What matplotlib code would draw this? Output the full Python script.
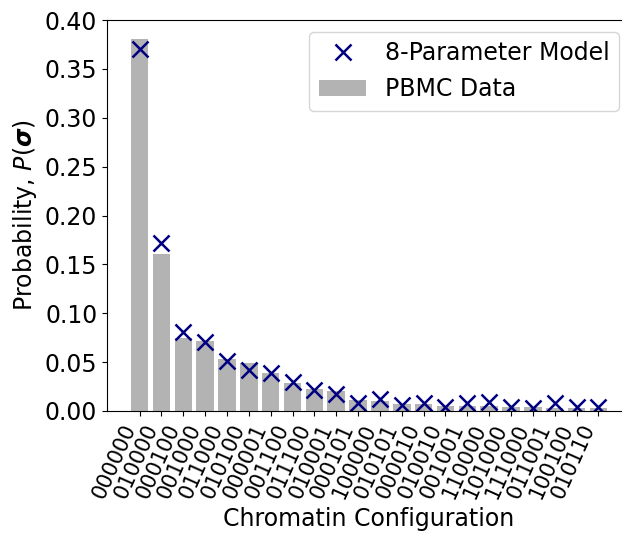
#!/usr/bin/env python
# -*- coding: utf8 -*-
import numpy as np
import matplotlib
matplotlib.use('Agg')
import matplotlib.pyplot as plt

# chromatin configurations, ordered by observed frequency
configs = ['000000', '010000', '000100', '001000', '011000', '010100',
           '000001', '001100', '011100', '010001', '000101', '100000',
           '010101', '000010', '010010', '001001', '110000', '101000',
           '111000', '011001', '100100', '010110']

# observed PBMC probabilities
data_probs = [0.381, 0.161, 0.0746, 0.0721, 0.0533, 0.0492,
              0.0387, 0.0284, 0.0226, 0.0205, 0.0113, 0.0106,
              0.0075, 0.0072, 0.0051, 0.0051, 0.0051, 0.0041,
              0.0041, 0.0031, 0.0028, 0.0028]

# 8-parameter model predictions
model_probs = [0.370, 0.172, 0.0807, 0.0705, 0.0513, 0.0420,
               0.0387, 0.0297, 0.0215, 0.0174, 0.0085, 0.0120,
               0.0062, 0.0079, 0.0044, 0.0079, 0.0096, 0.0044,
               0.0034, 0.0079, 0.0038, 0.0038]


def main():
    fig = plt.figure(figsize=(6.22, 5.34), dpi=100)
    # axes runs slightly past the right edge, as in the original crop
    ax = fig.add_axes([107 / 622, 123 / 534, 524 / 622, 391 / 534])

    x = np.arange(len(configs))
    bars = ax.bar(x, data_probs, width=0.8, color='#b3b3b3', label='PBMC Data')
    line, = ax.plot(x, model_probs, 'x', color='navy', markersize=11.5,
                    markeredgewidth=1.8, label='8-Parameter Model')

    ax.set_xlim(-1.49, len(configs) - 1 + 1.49)
    ax.set_ylim(0, 0.4)
    yt = np.arange(0, 0.401, 0.05)
    ax.set_yticks(yt)
    ax.set_yticklabels(['{:.2f}'.format(v) for v in yt], fontsize=17)
    ax.set_xticks(x)
    ax.set_xticklabels(configs, rotation=66, ha='right', fontsize=15)

    ax.set_xlabel('Chromatin Configuration', fontsize=17)
    ax.set_ylabel(r'Probability, $P(\boldsymbol{\sigma})$', fontsize=17)

    ax.legend(handles=[line, bars], loc='upper right', fontsize=17)

    fig.savefig('out.png', dpi=100)


if __name__ == "__main__":
    main()
